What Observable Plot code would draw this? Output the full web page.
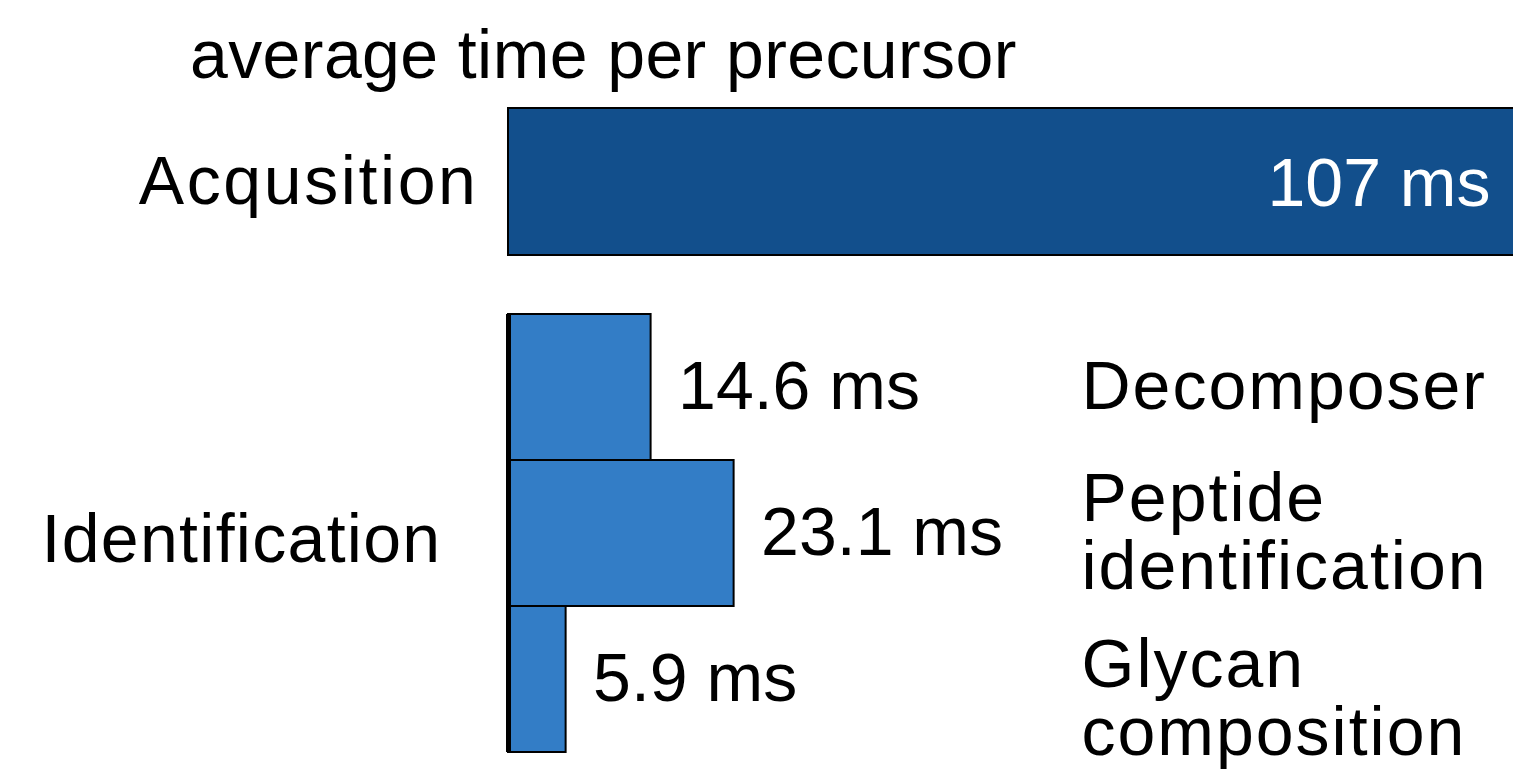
<!DOCTYPE html>
<html>
<head>
<meta charset="utf-8">
<script src="https://cdn.jsdelivr.net/npm/d3@7"></script>
<script src="https://cdn.jsdelivr.net/npm/@observablehq/plot@0.6"></script>
<style>
  html, body { margin: 0; padding: 0; background: white; overflow: hidden; }
  #wrap { position: relative; width: 1513px; height: 770px; overflow: hidden; background: white;
          font-family: "Liberation Sans", Arial, sans-serif; }
  #title { position: absolute; left: 190px; top: 20px; font-size: 68px; line-height: 68px; color: black;
           white-space: nowrap; letter-spacing: 0.4px; }
  .pl { position: absolute; left: 0; }
</style>
</head>
<body>
<div id="wrap">
  <div id="title"></div>
</div>
<script>
// ---- data ----
const titleText = "average time per precursor";
const unit = "ms";
const acqTasks = ["Acqusition"];
const acqTimes = [107];
const groupLabel = "Identification";
const idTasks = ["Decomposer", "Peptide identification", "Glycan composition"];
const idLabels = ["Decomposer", "Peptide\nidentification", "Glycan\ncomposition"];
const idTimes = [14.6, 23.1, 5.9];

// ---- build ----
const acq = acqTasks.map((t, i) => ({task: t, time: acqTimes[i]}));
const ident = idTasks.map((t, i) => ({task: t, label: idLabels[i], time: idTimes[i]}));

const FONT = "Liberation Sans, Arial, sans-serif";
const FS = 68;
const W = 1513, ML = 508;
const xMax = 102.9;            // visible range of the top bar panel
const MR_B = 431;              // right margin of lower panel (room for labels)
const xMaxB = xMax * (W - ML - MR_B) / (W - ML); // same px per ms

document.getElementById("title").textContent = titleText;

const plotA = Plot.plot({
  width: W, height: 155, marginTop: 4, marginBottom: 4, marginLeft: ML, marginRight: 0,
  style: {fontFamily: FONT, fontSize: FS + "px", background: "white", overflow: "hidden"},
  x: {domain: [0, xMax], axis: null},
  y: {domain: acqTasks, padding: 0},
  marks: [
    Plot.barX(acq, {x: "time", y: "task", fill: "#124f8c", stroke: "black", strokeWidth: 2}),
    Plot.text(acq, {y: "task", text: d => `${d.time} ${unit}`, frameAnchor: "right", textAnchor: "end",
                    dx: -23, dy: 2, fill: "white", fontSize: FS}),
    Plot.axisY({tickSize: 0, tickPadding: 30, fontSize: FS, label: null, fill: "black"})
  ]
});
plotA.classList.add("pl");
plotA.style.top = "104px";

const notLast = ident.filter(d => d.task !== "Glycan composition");
const last = ident.filter(d => d.task === "Glycan composition");

const plotB = Plot.plot({
  width: W, height: 446, marginTop: 4, marginBottom: 4, marginLeft: ML, marginRight: MR_B,
  style: {fontFamily: FONT, fontSize: FS + "px", background: "white", overflow: "visible"},
  x: {domain: [0, xMaxB], axis: null},
  y: {domain: idTasks, padding: 0, axis: null},
  marks: [
    Plot.barX(ident, {x: "time", y: "task", fill: "#337dc6", stroke: "black", strokeWidth: 2}),
    Plot.ruleX([0], {stroke: "black", strokeWidth: 5}),
    Plot.text(ident, {x: "time", y: "task", text: d => `${d.time} ${unit}`, textAnchor: "start",
                      dx: 27, fontSize: FS, fill: "black"}),
    Plot.text(notLast, {y: "task", text: "label", frameAnchor: "right", textAnchor: "start",
                        dx: -1, lineHeight: 1, fontSize: FS, fill: "black"}),
    Plot.text(last, {y: "task", text: "label", frameAnchor: "right", textAnchor: "start",
                     dx: -1, dy: 20, lineHeight: 1, fontSize: FS, fill: "black"}),
    Plot.text([groupLabel], {frameAnchor: "left", textAnchor: "end", dx: -67, dy: 7,
                             fontSize: FS, fill: "black"})
  ]
});
plotB.classList.add("pl");
plotB.style.top = "310px";

// letter spacing of the category labels (the source font is set a little looser)
d3.select(plotA).selectAll("text").filter(function () { return acqTasks.includes(this.textContent); })
  .style("letter-spacing", "2.6px");
d3.select(plotB).selectAll("text").each(function () {
  const t = this.textContent;
  if (t === groupLabel) d3.select(this).style("letter-spacing", "1.3px");
  else if (!t.endsWith(unit)) d3.select(this).style("letter-spacing", "2px");
});

const wrap = document.getElementById("wrap");
wrap.appendChild(plotA);
wrap.appendChild(plotB);
</script>
</body>
</html>
